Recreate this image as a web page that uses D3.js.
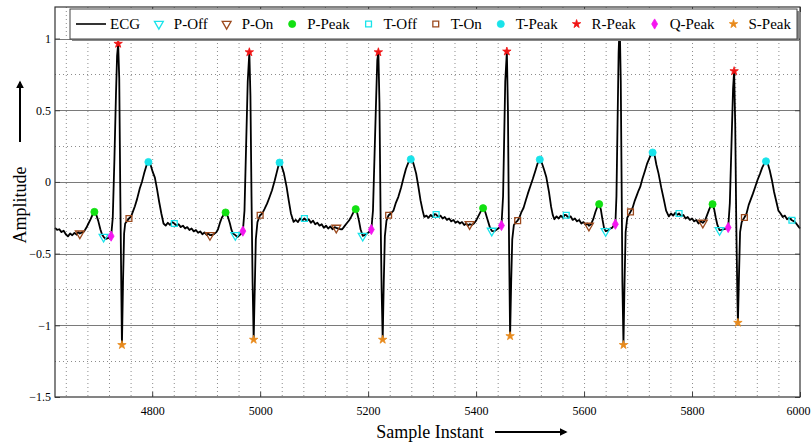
<!DOCTYPE html>
<meta charset="utf-8">
<style>
body { margin: 0; background: #fff; }
svg text { font-family: "Liberation Serif", "Times New Roman", serif; }
.grid-dot { stroke: #8c8c8c; stroke-width: 1; stroke-dasharray: 1,3; }
.grid-major { stroke: #7a7a7a; stroke-width: 1; }
.ecgline { fill: none; stroke: #000; stroke-width: 1.8px; stroke-linejoin: round; }
</style>
<body>
<svg id="chart" width="812" height="445"></svg>
<script src="https://d3js.org/d3.v7.min.js"></script>
<script>
// ECG trace, [sample, amplitude]
const ecgSamples = [
  [4620,-0.32],[4624,-0.335],[4628,-0.33],[4632,-0.35],[4636,-0.34],[4640,-0.365],[4644,-0.38],[4648,-0.36],[4652,-0.372],[4656,-0.355],[4660,-0.368],[4663,-0.35],[4666,-0.36],[4670,-0.352],[4674,-0.345],[4678,-0.32],[4682,-0.29],[4686,-0.26],[4690,-0.225],[4693,-0.209],[4697,-0.235],[4700,-0.27],[4704,-0.33],[4707,-0.365],[4710,-0.383],[4714,-0.398],[4718,-0.392],[4721,-0.385],[4724,-0.378],
  [4727,-0.25],[4730,0.15],[4733,0.62],[4735,0.88],[4737,0.964],[4739,0.72],[4741,-0.1],[4743,-0.8],[4744,-1.137],[4746,-0.7],[4748,-0.36],[4750,-0.29],[4753,-0.275],[4757,-0.255],
  [4761,-0.24],[4765,-0.2],[4768,-0.17],[4772,-0.12],[4777,-0.046],[4781,0.0],[4785,0.058],[4789,0.11],[4793,0.139],[4797,0.12],[4801,0.07],[4805,0.03],[4809,-0.05],[4813,-0.14],[4817,-0.22],[4821,-0.29],[4825,-0.305],
  [4829,-0.285],[4833,-0.3],[4837,-0.28],[4841,-0.29],[4845,-0.305],[4849,-0.295],[4853,-0.315],[4857,-0.305],[4861,-0.325],[4865,-0.315],[4869,-0.335],[4873,-0.325],[4877,-0.345],[4881,-0.335],[4885,-0.355],[4889,-0.345],[4893,-0.365],[4897,-0.352],[4901,-0.37],[4904,-0.36],[4907,-0.371],
  [4911,-0.37],[4915,-0.362],[4919,-0.35],[4922,-0.33],[4926,-0.28],[4929,-0.25],[4933,-0.225],[4936,-0.213],[4940,-0.24],[4944,-0.29],[4947,-0.336],[4950,-0.36],[4954,-0.371],[4958,-0.385],[4961,-0.375],[4965,-0.36],[4968,-0.343],
  [4971,-0.2],[4974,0.25],[4977,0.7],[4980,0.905],[4982,0.6],[4984,-0.1],[4986,-0.7],[4988,-1.10],[4990,-0.75],[4992,-0.4],[4995,-0.28],[4998,-0.25],[5000,-0.232],
  [5004,-0.22],[5008,-0.19],[5013,-0.15],[5017,-0.11],[5022,-0.058],[5027,0.01],[5031,0.07],[5034,0.115],[5036,0.135],[5040,0.11],[5044,0.06],[5049,-0.035],[5053,-0.13],[5057,-0.22],[5062,-0.279],[5066,-0.265],[5070,-0.28],[5074,-0.255],[5078,-0.27],[5082,-0.255],[5086,-0.27],[5090,-0.26],[5094,-0.285],[5098,-0.27],[5102,-0.295],[5106,-0.285],[5110,-0.305],[5114,-0.295],[5118,-0.32],[5122,-0.305],[5126,-0.325],[5130,-0.31],[5134,-0.33],[5138,-0.315],[5141,-0.32],
  [5145,-0.325],[5149,-0.33],[5152,-0.33],[5156,-0.31],[5160,-0.29],[5165,-0.267],[5169,-0.24],[5173,-0.21],[5177,-0.19],[5180,-0.22],[5183,-0.27],[5186,-0.33],[5190,-0.376],[5194,-0.37],[5198,-0.36],[5202,-0.35],[5206,-0.332],
  [5209,-0.2],[5212,0.2],[5215,0.6],[5217,0.85],[5219,0.905],[5221,0.55],[5223,-0.2],[5225,-0.75],[5227,-1.10],[5229,-0.7],[5231,-0.38],[5234,-0.27],[5238,-0.232],
  [5242,-0.22],[5247,-0.2],[5251,-0.15],[5256,-0.104],[5261,-0.04],[5266,0.035],[5270,0.09],[5274,0.13],[5279,0.158],[5283,0.14],[5286,0.1],[5289,0.058],[5293,-0.03],[5297,-0.127],[5301,-0.2],[5304,-0.244],[5308,-0.235],[5312,-0.25],[5316,-0.23],[5320,-0.245],[5323,-0.225],[5326,-0.227],[5330,-0.245],[5334,-0.235],[5338,-0.255],[5342,-0.245],[5346,-0.265],[5350,-0.255],[5354,-0.275],[5358,-0.265],[5362,-0.285],[5366,-0.275],[5370,-0.29],[5374,-0.28],[5378,-0.3],[5382,-0.29],[5385,-0.305],[5388,-0.295],
  [5392,-0.3],[5396,-0.29],[5400,-0.27],[5404,-0.24],[5408,-0.21],[5413,-0.183],[5417,-0.21],[5421,-0.26],[5425,-0.31],[5429,-0.341],[5433,-0.345],[5437,-0.335],[5441,-0.325],[5444,-0.315],[5447,-0.304],
  [5450,-0.1],[5452,0.3],[5454,0.7],[5457,0.91],[5459,0.5],[5461,-0.4],[5463,-1.075],[5465,-0.7],[5467,-0.4],[5470,-0.3],[5474,-0.28],[5477,-0.27],
  [5481,-0.24],[5484,-0.21],[5488,-0.18],[5492,-0.13],[5496,-0.08],[5500,-0.035],[5505,0.02],[5510,0.08],[5514,0.13],[5518,0.156],[5522,0.13],[5526,0.085],[5530,0.035],[5535,-0.07],[5539,-0.174],[5542,-0.23],[5545,-0.26],[5549,-0.24],[5553,-0.255],[5557,-0.235],[5561,-0.25],[5564,-0.23],[5567,-0.232],[5571,-0.25],[5575,-0.24],[5579,-0.265],[5583,-0.255],[5587,-0.275],[5591,-0.265],[5595,-0.29],[5599,-0.28],[5603,-0.3],[5606,-0.29],[5609,-0.306],
  [5613,-0.295],[5617,-0.26],[5621,-0.21],[5625,-0.17],[5628,-0.155],[5631,-0.19],[5634,-0.26],[5637,-0.32],[5640,-0.343],[5644,-0.34],[5648,-0.325],[5652,-0.32],[5655,-0.305],[5658,-0.295],
  [5660,-0.1],[5662,0.4],[5664,0.9],[5666,1.12],[5668,0.7],[5670,-0.2],[5671,-0.7],[5673,-1.137],[5675,-0.7],[5677,-0.35],[5680,-0.25],[5683,-0.23],[5686,-0.209],
  [5690,-0.18],[5694,-0.13],[5698,-0.09],[5701,-0.06],[5704,-0.035],[5708,0.02],[5713,0.08],[5717,0.13],[5722,0.175],[5727,0.205],[5731,0.18],[5734,0.12],[5738,0.058],[5743,-0.04],[5748,-0.127],[5752,-0.2],[5757,-0.24],[5761,-0.22],[5765,-0.235],[5769,-0.215],[5773,-0.23],[5776,-0.22],[5780,-0.24],[5784,-0.23],[5788,-0.255],[5792,-0.245],[5796,-0.265],[5800,-0.255],[5804,-0.275],[5808,-0.265],[5812,-0.29],[5816,-0.275],[5820,-0.285],
  [5824,-0.27],[5828,-0.23],[5832,-0.19],[5835,-0.165],[5838,-0.155],[5841,-0.19],[5844,-0.25],[5847,-0.3],[5851,-0.336],[5855,-0.335],[5859,-0.33],[5863,-0.325],[5867,-0.318],
  [5870,-0.15],[5873,0.25],[5876,0.65],[5878,0.773],[5880,0.4],[5882,-0.3],[5884,-0.8],[5885,-0.982],[5887,-0.65],[5889,-0.35],[5892,-0.28],[5895,-0.26],[5897,-0.248],
  [5901,-0.22],[5905,-0.16],[5909,-0.12],[5913,-0.08],[5917,-0.035],[5921,0.01],[5926,0.058],[5930,0.1],[5934,0.13],[5937,0.144],[5941,0.12],[5944,0.08],[5948,0.012],[5952,-0.07],[5957,-0.15],[5960,-0.2],[5964,-0.22],[5968,-0.245],[5972,-0.235],[5976,-0.26],[5980,-0.25],[5985,-0.267],[5989,-0.275],[5993,-0.29],[5997,-0.31],[6000,-0.325]
];

// detected fiducial points
const pOff  = [[4710,-0.383],[4954,-0.371],[5190,-0.376],[5429,-0.341],[5640,-0.343],[5851,-0.336]];
const pOn   = [[4666,-0.36],[4907,-0.371],[5141,-0.32],[5388,-0.295],[5609,-0.306],[5820,-0.285]];
const pPeak = [[4693,-0.209],[4936,-0.213],[5177,-0.19],[5413,-0.183],[5628,-0.155],[5838,-0.155]];
const tOff  = [[4841,-0.29],[5082,-0.255],[5326,-0.227],[5567,-0.232],[5776,-0.22],[5985,-0.267]];
const tOn   = [[4757,-0.255],[5000,-0.232],[5238,-0.232],[5477,-0.27],[5686,-0.209],[5897,-0.248]];
const tPeak = [[4793,0.139],[5036,0.135],[5279,0.158],[5518,0.156],[5727,0.205],[5937,0.144]];
const rPeak = [[4737,0.964],[4980,0.905],[5219,0.905],[5457,0.91],[5666,1.12],[5878,0.773]];
const qPeak = [[4724,-0.378],[4968,-0.343],[5206,-0.332],[5447,-0.304],[5658,-0.295],[5867,-0.318]];
const sPeak = [[4744,-1.137],[4988,-1.10],[5227,-1.10],[5463,-1.075],[5673,-1.137],[5885,-0.982]];

const xTicks = [4800, 5000, 5200, 5400, 5600, 5800, 6000];
const yTicks = [-1.5, -1, -0.5, 0, 0.5, 1];

const cyan = '#19e3ea', brown = '#9c4a1e';
const markerSets = [
  {name: 'P-Off',  data: pOff,  shape: 'tri',     fill: 'none',    stroke: cyan},
  {name: 'P-On',   data: pOn,   shape: 'tri',     fill: 'none',    stroke: brown},
  {name: 'P-Peak', data: pPeak, shape: 'circle',  fill: '#12e012', stroke: 'none'},
  {name: 'T-Off',  data: tOff,  shape: 'square',  fill: 'none',    stroke: cyan},
  {name: 'T-On',   data: tOn,   shape: 'square',  fill: 'none',    stroke: brown},
  {name: 'T-Peak', data: tPeak, shape: 'circle',  fill: cyan,      stroke: 'none'},
  {name: 'R-Peak', data: rPeak, shape: 'star',    fill: '#f01414', stroke: 'none'},
  {name: 'Q-Peak', data: qPeak, shape: 'diamond', fill: '#f514f0', stroke: 'none'},
  {name: 'S-Peak', data: sPeak, shape: 'star',    fill: '#e88a1c', stroke: 'none'}
];

const plotL = 55, plotR = 800, plotT = 7, plotB = 397;
const svg = d3.select('#chart');

const x = d3.scaleLinear().domain([4620, 6000]).range([plotL, plotR]);
const y = d3.scaleLinear().domain([-1.5, 1.22]).range([plotB, plotT]);

// grid
const grid = svg.append('g');
grid.selectAll('.vg').data(d3.range(4640, 6000, 40)).enter().append('line')
  .attr('class', 'grid-dot')
  .attr('x1', d => x(d) + 0.5).attr('x2', d => x(d) + 0.5)
  .attr('y1', plotT).attr('y2', plotB);
grid.selectAll('.hm').data([-1.25, -0.75, -0.25, 0.25, 0.75]).enter().append('line')
  .attr('class', 'grid-dot')
  .attr('x1', plotL).attr('x2', plotR)
  .attr('y1', d => Math.round(y(d)) + 0.5).attr('y2', d => Math.round(y(d)) + 0.5);
grid.selectAll('.hM').data([-1, -0.5, 0, 0.5, 1]).enter().append('line')
  .attr('class', 'grid-major')
  .attr('x1', plotL).attr('x2', plotR)
  .attr('y1', d => Math.round(y(d)) + 0.5).attr('y2', d => Math.round(y(d)) + 0.5);

// ecg trace
const line = d3.line().x(d => x(d[0])).y(d => y(d[1]));
svg.append('path').datum(ecgSamples).attr('class', 'ecgline').attr('d', line);

function symbolPath(shape) {
  if (shape === 'tri') return d3.symbol(d3.symbolTriangle, 34)();
  if (shape === 'circle') return d3.symbol(d3.symbolCircle, 40)();
  if (shape === 'square') return d3.symbol(d3.symbolSquare, 34)();
  if (shape === 'diamond') return d3.symbol(d3.symbolDiamond, 30)();
  return d3.symbol(d3.symbolStar, 22)();
}
function drawSymbol(g, s) {
  g.append('path')
    .attr('d', symbolPath(s.shape))
    .attr('transform', s.shape === 'tri' ? 'rotate(180)' : null)
    .attr('fill', s.fill)
    .attr('stroke', s.stroke === 'none' ? s.fill : s.stroke)
    .attr('stroke-width', s.stroke === 'none' ? 0.8 : 1.3);
}

markerSets.forEach(s => {
  const g = svg.append('g');
  s.data.forEach(d => {
    drawSymbol(g.append('g').attr('transform', `translate(${x(d[0])},${y(d[1])})`), s);
  });
});

// axes
const axisFont = g => g.selectAll('text')
  .style('font-family', '"Liberation Serif", serif').style('font-size', '12px').attr('fill', '#000');
svg.append('g').attr('transform', `translate(0,${plotB})`)
  .call(d3.axisBottom(x).tickValues(xTicks).tickSizeInner(-5).tickSizeOuter(0).tickPadding(9).tickFormat(d3.format('d')))
  .call(g => g.select('.domain').remove())
  .call(axisFont)
  .call(g => g.selectAll('text').filter(d => d === 6000).attr('dx', -2));
svg.append('g').attr('transform', `translate(${plotL},0)`)
  .call(d3.axisLeft(y).tickValues(yTicks).tickSizeInner(-5).tickSizeOuter(0).tickPadding(4).tickFormat(d3.format('')))
  .call(g => g.select('.domain').remove())
  .call(axisFont);
svg.append('g').attr('transform', `translate(0,${plotT})`)
  .call(d3.axisTop(x).tickValues(xTicks).tickSizeInner(-5).tickSizeOuter(0).tickFormat(''))
  .call(g => g.select('.domain').remove());
svg.append('g').attr('transform', `translate(${plotR},0)`)
  .call(d3.axisRight(y).tickValues(yTicks).tickSizeInner(-5).tickSizeOuter(0).tickFormat(''))
  .call(g => g.select('.domain').remove());
svg.selectAll('.tick line').attr('stroke', '#444');

svg.append('rect')
  .attr('x', plotL).attr('y', plotT).attr('width', plotR - plotL).attr('height', plotB - plotT)
  .attr('fill', 'none').attr('stroke', '#333').attr('stroke-width', 1.2);

// legend
const lg = svg.append('g');
const lgX = 70, lgY = 9, lgW = 727, lgH = 30;
lg.append('rect').attr('x', lgX + 2).attr('y', lgY + 2).attr('width', lgW).attr('height', lgH).attr('fill', '#888');
lg.append('rect').attr('x', lgX).attr('y', lgY).attr('width', lgW).attr('height', lgH)
  .attr('fill', '#fff').attr('stroke', '#444').attr('stroke-width', 1);

const items = [{name: 'ECG', isLine: true}].concat(markerSets);
const cy = lgY + lgH / 2;
const tmp = [];
items.forEach(it => {
  const g = lg.append('g');
  const t = g.append('text').text(it.name).attr('y', cy + 5).style('font-size', '15px');
  tmp.push({g, t, it, w: t.node().getComputedTextLength(), sym: it.isLine ? 34 : 18});
});
const used = d3.sum(tmp, d => d.sym + d.w);
const gap = (lgW - 12 - used) / (tmp.length - 1);
let cx = lgX + 6;
tmp.forEach(d => {
  if (d.it.isLine) {
    d.g.append('line').attr('x1', cx).attr('x2', cx + 30).attr('y1', cy).attr('y2', cy)
      .attr('stroke', '#000').attr('stroke-width', 1.6);
  } else {
    drawSymbol(d.g.append('g').attr('transform', `translate(${cx + 3},${cy})`), d.it);
  }
  d.t.attr('x', cx + d.sym);
  cx += d.sym + d.w + gap;
});

// axis titles with arrows
svg.append('defs').append('marker')
  .attr('id', 'arr').attr('viewBox', '0 0 10 10').attr('refX', 8).attr('refY', 5)
  .attr('markerWidth', 4).attr('markerHeight', 4).attr('orient', 'auto')
  .append('path').attr('d', 'M0,0L10,5L0,10z').attr('fill', '#000');

svg.append('text').attr('transform', 'translate(26,205) rotate(-90)')
  .attr('text-anchor', 'middle').style('font-size', '18px').text('Amplitude');
svg.append('line').attr('x1', 20).attr('x2', 20).attr('y1', 142).attr('y2', 82)
  .attr('stroke', '#000').attr('stroke-width', 2).attr('marker-end', 'url(#arr)');

svg.append('text').attr('x', 430).attr('y', 438)
  .attr('text-anchor', 'middle').style('font-size', '18px').text('Sample Instant');
svg.append('line').attr('x1', 495).attr('x2', 566).attr('y1', 432).attr('y2', 432)
  .attr('stroke', '#000').attr('stroke-width', 2).attr('marker-end', 'url(#arr)');
</script>
</body>
